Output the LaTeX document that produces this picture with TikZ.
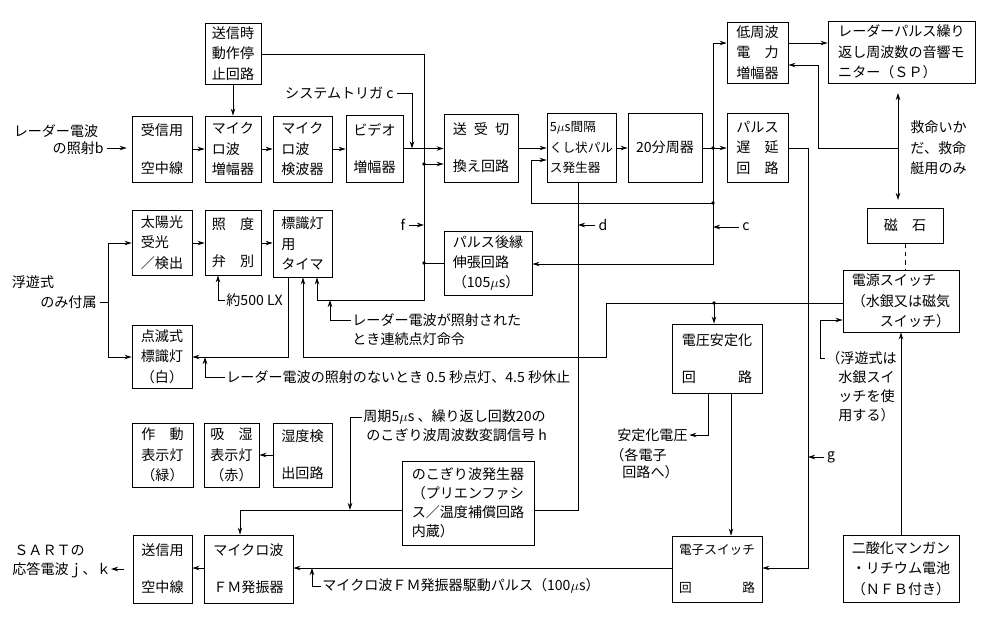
\documentclass[tikz,border=0pt]{standalone}
\usepackage{fontspec}
\setmainfont{Noto Sans CJK JP}
\usetikzlibrary{arrows.meta,calc}
\newcommand\jf{\fontsize{10pt}{14.5pt}\selectfont}
\newcommand\jfs{\fontsize{9pt}{14.5pt}\selectfont}
\newcommand\jfl{\fontsize{10pt}{13.5pt}\selectfont}
\newcommand\spr[2]{\makebox[#1][s]{#2}}
\newcommand\bx[7][]{\node[box,minimum width={(#5-#3)*0.025cm},minimum height={(#6-#4)*0.025cm},#1] (#2) at ({(#3+#5)/2},{(#4+#6)/2}) {#7};}
\begin{document}
\begin{tikzpicture}[x=0.025cm,y=-0.025cm,line width=0.6pt,
 box/.style={draw,inner sep=0pt,align=left,font=\jf},
 lbl/.style={inner sep=0pt,align=left,font=\jf},
 arr/.style={-{Stealth[length=5pt,width=3.2pt]}},
 arrr/.style={{Stealth[length=5pt,width=3.2pt]}-{Stealth[length=5pt,width=3.2pt]}}]
\useasboundingbox (0,0) rectangle (1000,626);
% boxes
\bx{stop}{205}{23}{261}{84}{送信時\\動作停\\止回路}
\bx{rxant}{132}{116}{192}{182}{受信用\\[12pt]空中線}
\bx{mwamp}{205}{116}{261}{182}{マイク\\ロ波\\増幅器}
\bx{mwdet}{273}{116}{332}{182}{マイク\\ロ波\\検波器}
\bx{vid}{346}{115}{403}{182}{ビデオ\\[12pt]増幅器}
\bx{trsw}{444}{114}{518}{182}{\spr{4em}{送\hfill 受\hfill 切}\\[12pt]換え回路}
\bx[font=\jfs]{comb}{547}{113}{616}{182}{5$\mu$s間隔\\くし状パル\\ス発生器}
\bx{div}{628}{113}{702}{182}{20分周器}
\bx{lfamp}{727}{22}{788}{83}{低周波\\\spr{3em}{電\hfill 力}\\増幅器}
\bx{mon}{828}{21}{975}{83}{レーダーパルス繰り\\返し周波数の音響モ\\ニター（ＳＰ）}
\bx{delay}{727}{113}{788}{182}{パルス\\\spr{3em}{遅\hfill 延}\\\spr{3em}{回\hfill 路}}
\bx{magnet}{867}{208}{943}{243}{\spr{3em}{磁\hfill 石}}
\bx{psw}{843}{270}{959}{332}{電源スイッチ\\（水銀又は磁気\\\hspace{2em}スイッチ）}
\bx{sun}{132}{210}{192}{275}{太陽光\\受光\\／検出}
\bx{lux}{205}{210}{261}{275}{\spr{3em}{照\hfill 度}\\[12pt]\spr{3em}{弁\hfill 別}}
\bx{timer}{273}{210}{332}{277}{標識灯\\用\\タイマ}
\bx[align=center]{flash}{132}{325}{192}{388}{点滅式\\標識灯\\（白）}
\bx{stretch}{444}{231}{532}{295}{パルス後縁\\伸張回路\\（105$\mu$s）}
\bx{vreg}{672}{324}{762}{393}{電圧安定化\\[12pt]\spr{5em}{回\hfill 路}}
\bx[align=center]{opind}{132}{423}{193}{487}{\spr{3em}{作\hfill 動}\\表示灯\\（緑）}
\bx[align=center]{humind}{204}{423}{259}{487}{\spr{3em}{吸\hfill 湿}\\表示灯\\（赤）}
\bx{humdet}{273}{423}{332}{487}{湿度検\\[12pt]出回路}
\bx[font=\jfl]{saw}{402}{461}{534}{545}{のこぎり波発生器\\（プリエンファシ\\ス／温度補償回路\\内蔵）}
\bx{txant}{133}{535}{192}{603}{送信用\\[12pt]空中線}
\bx{fm}{204}{535}{293}{603}{マイクロ波\\[12pt]ＦＭ発振器}
\bx[font=\jfs]{esw}{672}{536}{762}{602}{電子スイッチ\\[12pt]\spr{6em}{回\hfill 路}}
\bx{batt}{843}{535}{959}{602}{二酸化マンガン\\・リチウム電池\\（ＮＦＢ付き）}
% labels
\node[lbl] (rad1) at (56,131) {レーダー電波};
\node[lbl,anchor=east] (rad2) at (104,148) {の照射b};
\node[lbl,anchor=east] (sys) at (394,93) {システムトリガ c};
\node[lbl] (f) at (403,225) {f};
\node[lbl] (d) at (603,225) {d};
\node[lbl] (c) at (746,227) {c};
\node[lbl] (g) at (831,457) {g};
\node[lbl,anchor=west] (kyu) at (910,148) {救命いか\\だ、救命\\艇用のみ};
\node[lbl] (fl1) at (33,282) {浮遊式};
\node[lbl,anchor=east] (fl2) at (97,302) {のみ付属};
\node[lbl,anchor=west] (lx) at (226,300) {約500 LX};
\node[lbl,anchor=west] (cont1) at (352,320) {レーダー電波が照射された};
\node[lbl,anchor=west] (cont2) at (352,339) {とき連続点灯命令};
\node[lbl,anchor=west] (blk) at (226,377) {レーダー電波の照射のないとき 0.5 秒点灯、4.5 秒休止};
\node[lbl,anchor=west] (hl1) at (363,417) {周期5$\mu$s 、繰り返し回数20の};
\node[lbl,anchor=west] (hl2) at (366,435) {のこぎり波周波数変調信号 h};
\node[lbl,anchor=east] (stab) at (688,435) {安定化電圧};
\node[lbl,anchor=west] (stab2) at (610,455) {（各電子};
\node[lbl,anchor=west] (stab3) at (622,472) {回路へ）};
\node[lbl,anchor=west] (wl1) at (826,358) {（浮遊式は};
\node[lbl,anchor=north west,font=\jfl] (wl2) at (838,370) {水銀スイ\\ッチを使\\用する）};
\node[lbl,anchor=west] (fml) at (322,586) {マイクロ波ＦＭ発振器駆動パルス（100$\mu$s）};
\node[lbl,anchor=west] (sart1) at (14,550) {ＳＡＲＴの};
\node[lbl,anchor=west] (sart2) at (12,570) {応答電波ｊ、ｋ};
% coordinates
\coordinate (v1) at (424,54);
\coordinate (d1) at (424,164);
\coordinate (d2) at (424,263);
\coordinate (v2) at (424,300);
\coordinate (v3) at (317,300);
\coordinate (st) at (412,93);
\coordinate (d3) at (713,148);
\coordinate (u1) at (713,43);
\coordinate (d4) at (713,203);
\coordinate (u2) at (713,264);
\coordinate (w1) at (531,203);
\coordinate (w2) at (531,160);
\coordinate (r1) at (898,148);
\coordinate (r2) at (818,148);
\coordinate (r3) at (818,65);
\coordinate (da1) at (898,93);
\coordinate (da2) at (898,200);
\coordinate (g1) at (808,148);
\coordinate (g2) at (808,568);
\coordinate (p0) at (714,303);
\coordinate (p1) at (606,303);
\coordinate (p2) at (606,357);
\coordinate (p3) at (303,357);
\coordinate (s1) at (708,435);
\coordinate (s2) at (731,393);
\coordinate (sa) at (111,569);
\coordinate (h1) at (350,510);
\coordinate (h2) at (240,510);
\coordinate (hc) at (350,417);
\coordinate (dd) at (578,510);
\coordinate (m1) at (312,586);
\coordinate (l1) at (218,300);
\coordinate (k1) at (330,320);
\coordinate (t1) at (288,357);
\coordinate (q1) at (205,377);
\coordinate (fl) at (108,302);
\coordinate (fa) at (108,243);
\coordinate (fb) at (108,357);
\coordinate (w3) at (820,358);
\coordinate (w4) at (820,320);
% connectors
\draw[arr,shorten <=2pt,shorten >=3.5pt] (rad2.east) -- (rad2.east -| rxant.west);
\draw[arr] (rxant.east) -- (rxant.east -| mwamp.west);
\draw[arr] (mwamp.east) -- (mwamp.east -| mwdet.west);
\draw[arr] (mwdet.east) -- (mwdet.east -| vid.west);
\draw[arr] (vid.east) -- (vid.east -| trsw.west);
\draw[arr] (stop) -- (mwamp);
\draw[arr,shorten <=2pt] (sys.east) -- (st) -- (st |- vid.east);
\draw[arr] (stop.east |- v1) -- (v1) -- (v2) -- (v3) -- (v3 |- timer.south);
\draw[arr] (d1) -- (d1 -| trsw.west);
\draw (stretch.west |- d2) -- (d2);
\draw[arr,shorten <=2pt] (f.east) -- (f.east -| v1);
\draw[arr] (trsw.east |- d3) -- (d3 -| comb.west);
\draw[arr] (comb.east |- d3) -- (d3 -| div.west);
\draw[arr] (div.east |- d3) -- (d3 -| delay.west);
\draw[arr] (d3) -- (u1) -- (u1 -| lfamp.west);
\draw[arr] (d3) -- (u2) -- (u2 -| stretch.east);
\draw[arr] (d4) -- (w1) -- (w2) -- (w2 -| comb.west);
\draw[arr,shorten <=2pt] (c.west) -- (c.west -| d3);
\draw[arr] (lfamp.east |- u1) -- (u1 -| mon.west);
\draw[arr] (r1) -- (r2) -- (r3) -- (r3 -| lfamp.east);
\draw[arrr] (da1) -- (da2);
\draw[dashed] (magnet.south) -- (magnet.south |- psw.north);
\draw[arr] (delay.east |- g1) -- (g1) -- (g2) -- (g2 -| esw.east);
\draw[arr,shorten <=2pt] (g.west) -- (g.west -| g1);
\draw[arr] (psw.west |- p0) -- (p1) -- (p2) -- (p3) -- (p3 |- timer.south);
\draw[arr] (p0) -- (p0 |- vreg.north);
\draw[arr,shorten >=1pt] (s1 |- vreg.south) -- (s1) -- (stab.east);
\draw[arr] (s2) -- (s2 |- esw.north);
\draw[arr] (esw.west |- g2) -- (g2 -| fm.east);
\draw[arr] (fm.west |- g2) -- (g2 -| txant.east);
\draw[arr,shorten <=6pt] (txant.west) -- (sa);
\draw[arr] (saw.west |- h1) -- (h2) -- (h2 |- fm.north);
\draw[arr,shorten <=1pt] (hl1.west) -- (hc) -- (h1);
\draw (comb.south -| dd) -- (dd) -- (dd -| saw.east);
\draw[arr,shorten <=2pt] (d.west) -- (d.west -| dd);
\draw[arr,shorten <=1pt] (fml.west) -- (m1) -- (m1 |- g2);
\draw[arr,shorten <=1pt] (lx.west) -- (l1) -- (l1 |- lux.south);
\draw[arr,shorten <=1pt] (cont1.west) -- (k1) -- (k1 |- v2);
\draw[arr] (timer.south -| t1) -- (t1) -- (t1 -| flash.east);
\draw[arr,shorten <=1pt] (blk.west) -- (q1) -- (q1 |- p3);
\draw[shorten <=2pt] (fl2.east) -- (fl);
\draw[arr] (fl) -- (fa) -- (fa -| sun.west);
\draw[arr] (fl) -- (fb) -- (fb -| flash.west);
\draw[arr] (sun.east |- fa) -- (fa -| lux.west);
\draw[arr] (lux.east |- fa) -- (fa -| timer.west);
\draw[arr] (humdet.west) -- (humdet.west -| humind.east);
\draw[arr,shorten <=1pt] (wl1.west) -- (w3) -- (w4) -- (w4 -| psw.west);
\draw[arr] (batt.north) -- (batt.north |- psw.south);
% junction dots
\foreach \p in {d1,d2,d3,d4,p0} \fill (\p) circle[radius=1.4pt];
\end{tikzpicture}
\end{document}
